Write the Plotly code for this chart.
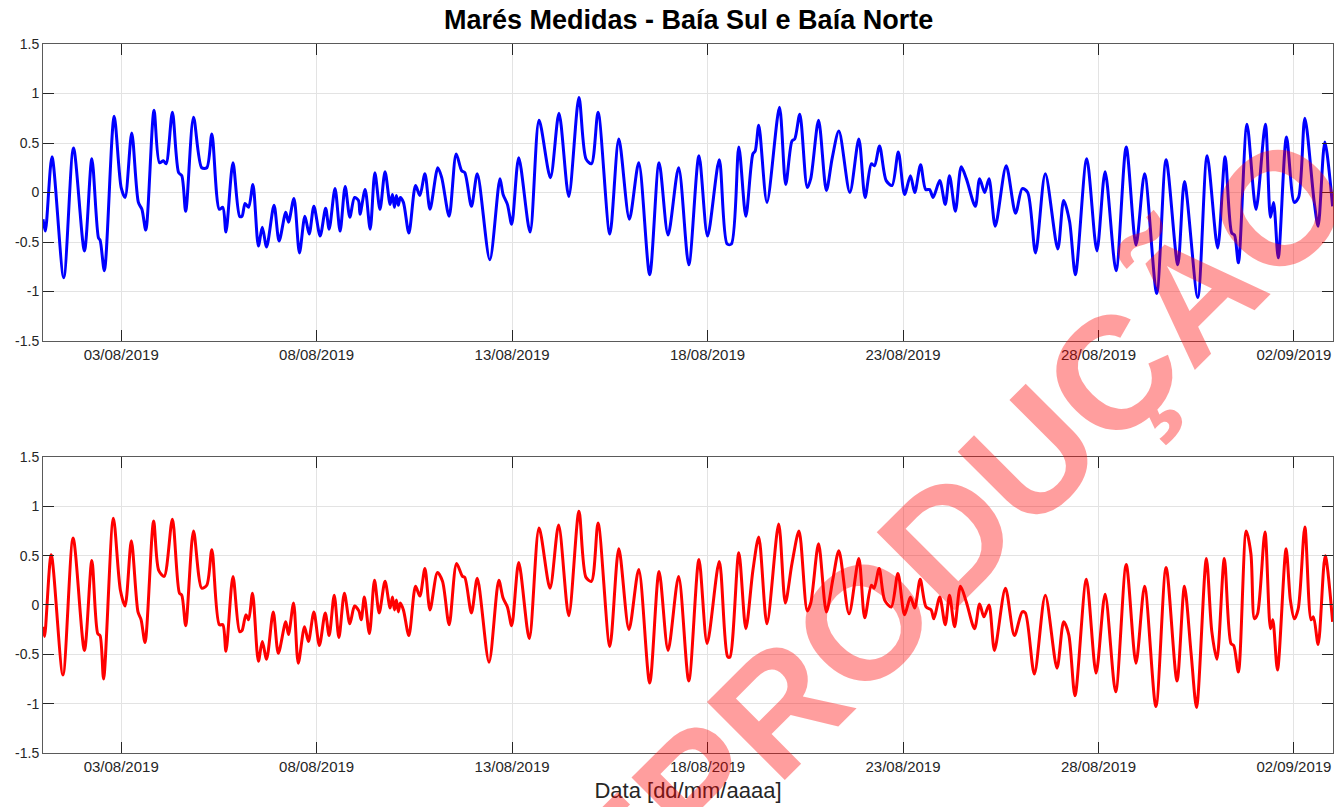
import pandas as pd
import plotly.graph_objects as go

# Medições de maré (dias desde 01/08/2019 00:00, nível em metros)
dias_sul = [
    0.00, 0.06, 0.23, 0.53, 0.78, 1.06, 1.25, 1.42, 1.46, 1.57,
    1.82, 2.00, 2.10, 2.27, 2.44, 2.53, 2.63, 2.84, 2.98, 3.08,
    3.15, 3.31, 3.47, 3.55, 3.65, 3.85, 4.06, 4.19, 4.32, 4.51,
    4.60, 4.68, 4.86, 5.03, 5.09, 5.17, 5.26, 5.37,
    5.51, 5.61, 5.72, 5.91, 6.04, 6.21, 6.28, 6.42, 6.56, 6.70,
    6.81, 6.93, 7.09, 7.23, 7.32, 7.47, 7.60, 7.73, 7.85, 7.97,
    8.07, 8.11, 8.24, 8.37, 8.49, 8.62, 8.75, 8.88, 8.94, 8.99,
    9.04, 9.09, 9.14, 9.22, 9.36, 9.53, 9.64, 9.77, 9.90, 10.10,
    10.20, 10.39, 10.57, 10.71, 10.79, 10.96,
    11.11, 11.43, 11.69, 11.77, 11.88, 11.99, 12.17, 12.46, 12.69, 12.98,
    13.20, 13.45, 13.71, 13.89, 14.03, 14.20, 14.50, 14.73, 15.00, 15.24,
    15.52, 15.76, 15.99, 16.26,
    16.52, 16.78, 17.00, 17.30, 17.50, 17.61, 17.80, 17.98, 18.16, 18.22,
    18.31, 18.52, 18.84, 19.00, 19.16, 19.23, 19.36, 19.55, 19.64, 19.84,
    20.04, 20.19, 20.36, 20.64, 20.87, 21.03, 21.19, 21.27, 21.40, 21.57,
    21.72, 21.88,
    22.04, 22.19, 22.30, 22.45, 22.58, 22.68, 22.77, 22.94, 23.08, 23.19,
    23.34, 23.49, 23.62, 23.85, 23.96, 24.09, 24.20, 24.36, 24.64, 24.88,
    25.05, 25.19, 25.39, 25.64, 25.96, 26.11, 26.26, 26.41, 26.70, 26.96,
    27.17, 27.45,
    27.71, 27.96, 28.18, 28.49, 28.73, 29.03, 29.20, 29.54, 29.78, 30.05,
    30.24, 30.41, 30.48, 30.58, 30.80, 31.03, 31.27, 31.40, 31.48, 31.60,
    31.81, 32.01, 32.12, 32.28, 32.52, 32.62, 32.79, 32.99,
]
nivel_sul = [
    -0.27, -0.39, 0.36, -0.86, 0.45, -0.59, 0.34, -0.46, -0.48, -0.79,
    0.77, 0.05, -0.05, 0.60, -0.10, -0.17, -0.38, 0.83, 0.30, 0.32,
    0.29, 0.81, 0.20, 0.17, -0.19, 0.76, 0.25, 0.25, 0.59, -0.17,
    -0.15, -0.40, 0.30, -0.24, -0.24, -0.11, -0.15, 0.08,
    -0.54, -0.35, -0.55, -0.13, -0.49, -0.20, -0.30, -0.06, -0.61, -0.24,
    -0.42, -0.14, -0.44, -0.16, -0.37, 0.04, -0.39, 0.06, -0.25, -0.05,
    -0.08, -0.22, 0.03, -0.37, 0.20, -0.17, 0.21, -0.12, -0.02, -0.15,
    -0.03, -0.13, -0.05, -0.10, -0.41, 0.07, -0.03, 0.19, -0.17, 0.25,
    0.15, -0.24, 0.39, 0.22, 0.20, -0.14,
    0.19, -0.68, 0.14, -0.02, -0.12, -0.32, 0.35, -0.40, 0.73, 0.15,
    0.80, -0.04, 0.96, 0.34, 0.29, 0.81, -0.42, 0.54, -0.27, 0.30,
    -0.83, 0.30, -0.43, 0.25,
    -0.73, 0.37, -0.44, 0.33, -0.52, -0.52, 0.46, -0.24, 0.39, 0.42,
    0.68, -0.10, 0.86, 0.08, 0.52, 0.54, 0.79, 0.05, 0.14, 0.73,
    0.02, 0.35, 0.62, 0.00, 0.54, -0.05, 0.29, 0.27, 0.47, 0.12,
    0.07, 0.41,
    -0.02, 0.17, 0.00, 0.28, 0.03, 0.03, -0.05, 0.12, -0.12, 0.17,
    -0.19, 0.26, 0.14, -0.14, 0.14, 0.00, 0.14, -0.34, 0.27, -0.21,
    0.04, 0.00, -0.61, 0.19, -0.57, -0.08, -0.29, -0.83, 0.34, -0.59,
    0.21, -0.79,
    0.46, -0.53, 0.19, -1.02, 0.33, -0.73, 0.11, -1.06, 0.37, -0.56,
    0.36, -0.41, -0.43, -0.71, 0.69, -0.17, 0.69, -0.25, -0.10, -0.66,
    0.56, -0.10, -0.05, 0.75, -0.10, -0.34, 0.51, -0.14,
]

dias_norte = [
    0.00, 0.04, 0.21, 0.51, 0.77, 1.06, 1.25, 1.40, 1.46, 1.55,
    1.80, 1.98, 2.10, 2.26, 2.43, 2.51, 2.61, 2.83, 2.96, 3.10,
    3.31, 3.49, 3.55, 3.65, 3.85, 4.06, 4.19, 4.32, 4.51, 4.60,
    4.68, 4.86, 5.03, 5.09, 5.19, 5.26, 5.36,
    5.51, 5.61, 5.72, 5.89, 6.02, 6.21, 6.28, 6.41, 6.53, 6.69,
    6.79, 6.93, 7.07, 7.22, 7.32, 7.45, 7.57, 7.71, 7.85, 7.97,
    8.08, 8.14, 8.22, 8.35, 8.48, 8.60, 8.75, 8.88, 8.94, 8.99,
    9.04, 9.09, 9.14, 9.22, 9.36, 9.53, 9.64, 9.77, 9.90, 10.09,
    10.22, 10.39, 10.58, 10.73, 10.79, 10.96,
    11.11, 11.41, 11.66, 11.77, 11.88, 11.99, 12.17, 12.44, 12.69, 12.97,
    13.19, 13.45, 13.71, 13.89, 14.03, 14.20, 14.50, 14.73, 14.99, 15.24,
    15.52, 15.76, 15.99, 16.26,
    16.52, 16.78, 16.99, 17.30, 17.51, 17.57, 17.80, 17.98, 18.16, 18.31,
    18.52, 18.82, 18.99, 19.16, 19.34, 19.55, 19.64, 19.84, 20.04, 20.21,
    20.36, 20.62, 20.87, 21.02, 21.19, 21.26, 21.39, 21.53, 21.70, 21.87,
    22.04, 22.19, 22.30, 22.44, 22.59, 22.72, 22.79, 22.94, 23.08, 23.19,
    23.32, 23.47, 23.62, 23.83, 23.96, 24.07, 24.20, 24.34, 24.62, 24.85,
    25.05, 25.13, 25.36, 25.64, 25.94, 26.11, 26.24, 26.40, 26.69, 26.94,
    27.17, 27.44,
    27.71, 27.96, 28.18, 28.47, 28.73, 29.01, 29.20, 29.37, 29.51, 29.76,
    29.90, 30.03, 30.22, 30.39, 30.46, 30.58, 30.78, 30.90, 30.99, 31.07,
    31.26, 31.40, 31.46, 31.58, 31.80, 31.91, 32.01, 32.11, 32.28, 32.44,
    32.50, 32.62, 32.80, 32.99,
]
nivel_norte = [
    -0.22, -0.32, 0.51, -0.71, 0.68, -0.46, 0.45, -0.29, -0.31, -0.75,
    0.88, 0.15, -0.01, 0.65, -0.07, -0.15, -0.38, 0.85, 0.35, 0.29,
    0.87, 0.12, 0.10, -0.21, 0.75, 0.17, 0.20, 0.56, -0.20, -0.20,
    -0.47, 0.29, -0.27, -0.26, -0.10, -0.15, 0.12,
    -0.57, -0.37, -0.55, -0.07, -0.49, -0.17, -0.30, 0.02, -0.59, -0.22,
    -0.37, -0.07, -0.41, -0.08, -0.31, 0.10, -0.33, 0.12, -0.19, -0.01,
    -0.06, -0.15, 0.08, -0.29, 0.25, -0.08, 0.24, -0.03, 0.08, -0.05,
    0.05, -0.07, 0.02, -0.05, -0.31, 0.19, 0.09, 0.37, -0.05, 0.33,
    0.24, -0.20, 0.42, 0.29, 0.28, -0.08,
    0.27, -0.58, 0.25, 0.07, -0.02, -0.21, 0.43, -0.34, 0.78, 0.17,
    0.81, -0.11, 0.95, 0.28, 0.24, 0.83, -0.42, 0.57, -0.25, 0.36,
    -0.79, 0.34, -0.46, 0.29,
    -0.77, 0.46, -0.39, 0.44, -0.52, -0.53, 0.53, -0.24, 0.35, 0.69,
    -0.19, 0.82, 0.02, 0.42, 0.75, -0.06, 0.02, 0.62, -0.07, 0.27,
    0.55, -0.09, 0.47, -0.13, 0.20, 0.17, 0.37, 0.05, -0.02, 0.32,
    -0.10, 0.08, -0.03, 0.26, -0.02, -0.05, -0.14, 0.08, -0.20, 0.10,
    -0.22, 0.19, 0.03, -0.24, 0.01, -0.12, 0.00, -0.46, 0.17, -0.31,
    -0.07, -0.08, -0.70, 0.10, -0.64, -0.17, -0.30, -0.92, 0.26, -0.69,
    0.11, -0.88,
    0.41, -0.59, 0.19, -1.03, 0.38, -0.77, 0.19, -0.49, -1.04, 0.47,
    -0.27, -0.55, 0.47, -0.39, -0.41, -0.68, 0.75, 0.52, -0.14, -0.09,
    0.74, -0.24, -0.15, -0.66, 0.57, 0.05, -0.14, -0.04, 0.79, -0.15,
    -0.12, -0.40, 0.50, -0.17,
]

assert len(dias_sul) == len(nivel_sul)
assert len(dias_norte) == len(nivel_norte)

y_ticks = [-1.5, -1.0, -0.5, 0.0, 0.5, 1.0, 1.5]
y_ticktext = ["-1.5", "-1", "-0.5", "0", "0.5", "1", "1.5"]

inicio = pd.Timestamp("2019-08-01 00:00")
fim = pd.Timestamp("2019-09-03 00:00")
t_sul = inicio + pd.to_timedelta(dias_sul, unit="D")
t_norte = inicio + pd.to_timedelta(dias_norte, unit="D")

FONT = "Liberation Sans, Arial, Helvetica, sans-serif"
AX_COLOR = "#262626"

fig = go.Figure()
fig.add_trace(go.Scatter(
    x=t_sul, y=nivel_sul, mode="lines", name="Baía Sul",
    line=dict(color="#0000FF", width=3, shape="spline", smoothing=0.8),
    xaxis="x", yaxis="y",
))
fig.add_trace(go.Scatter(
    x=t_norte, y=nivel_norte, mode="lines", name="Baía Norte",
    line=dict(color="#FF0000", width=3, shape="spline", smoothing=0.8),
    xaxis="x2", yaxis="y2",
))

xcommon = dict(
    type="date",
    range=[inicio, fim],
    tick0="2019-08-03",
    dtick=5 * 86400000,
    tickformat="%d/%m/%Y",
    showgrid=True, gridcolor="#e3e3e3", gridwidth=1,
    zeroline=False,
    showline=True, linecolor="#5a5a5a", linewidth=1, mirror="ticks",
    ticks="inside", ticklen=11, tickcolor=AX_COLOR, tickwidth=1,
    tickfont=dict(family=FONT, size=15, color=AX_COLOR),
)
ycommon = dict(
    range=[-1.5, 1.5],
    tickvals=y_ticks, ticktext=y_ticktext,
    showgrid=True, gridcolor="#e3e3e3", gridwidth=1,
    zeroline=False,
    showline=True, linecolor="#5a5a5a", linewidth=1, mirror="ticks",
    ticks="inside", ticklen=11, tickcolor=AX_COLOR, tickwidth=1,
    tickfont=dict(family=FONT, size=14, color=AX_COLOR),
)

fig.update_layout(
    width=1334, height=807,
    margin=dict(l=43, r=1, t=44, b=54),
    paper_bgcolor="white", plot_bgcolor="white",
    showlegend=False,
    xaxis=dict(xcommon, anchor="y"),
    yaxis=dict(ycommon, domain=[0.5811, 1.0], anchor="x"),
    xaxis2=dict(xcommon, anchor="y2",
                title=dict(text="Data [dd/mm/aaaa]", standoff=8,
                           font=dict(family=FONT, size=22, color=AX_COLOR))),
    yaxis2=dict(ycommon, domain=[0.0, 0.4175], anchor="x2"),
    annotations=[
        dict(text="<b>Marés Medidas - Baía Sul e Baía Norte</b>",
             xref="paper", yref="paper", x=0.5, y=1.0, yshift=7,
             xanchor="center", yanchor="bottom", showarrow=False,
             font=dict(family=FONT, size=27, color="black")),
        dict(text="<b>REPRODUÇÃO</b>",
             xref="paper", yref="paper", x=0.675, y=0.255,
             xanchor="center", yanchor="middle", showarrow=False,
             textangle=-45,
             font=dict(family=FONT, size=160, color="rgba(255,0,0,0.38)")),
    ],
)

fig.write_html("out.html")
